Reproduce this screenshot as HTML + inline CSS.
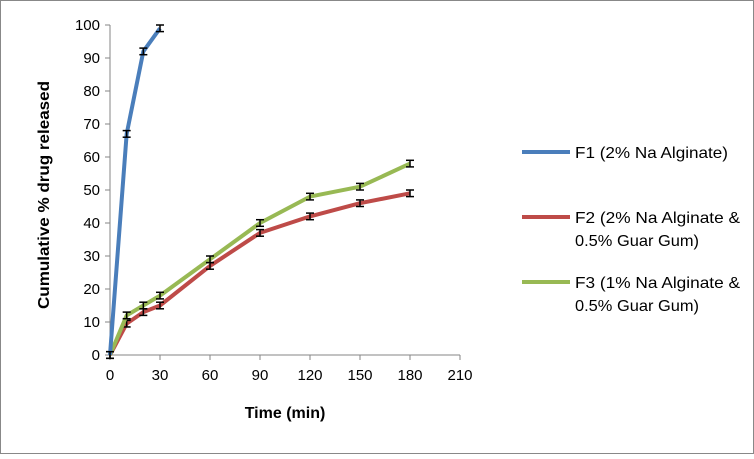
<!DOCTYPE html>
<html><head><meta charset="utf-8"><style>
body{margin:0;background:#fff}
svg text{font-family:"Liberation Sans",sans-serif}
</style></head><body>
<svg id="chart" width="754" height="454" xmlns="http://www.w3.org/2000/svg">
<rect x="0.5" y="0.5" width="753" height="453" fill="#fff" stroke="#888"/>
<g id="axes"></g>
<g id="series"></g>
<text x="285" y="418" font-size="16" font-weight="bold" text-anchor="middle">Time (min)</text>
<text transform="translate(49,195) rotate(-90)" font-size="16" font-weight="bold" text-anchor="middle" textLength="228" lengthAdjust="spacingAndGlyphs">Cumulative % drug released</text>
<g>
<line x1="522" y1="152" x2="570" y2="152" stroke="#4a7ebb" stroke-width="4"/>
<text x="575" y="158" font-size="16" textLength="153" lengthAdjust="spacingAndGlyphs">F1 (2% Na Alginate)</text>
<line x1="522" y1="217" x2="570" y2="217" stroke="#be4b48" stroke-width="4"/>
<text x="575" y="223" font-size="16" textLength="165" lengthAdjust="spacingAndGlyphs">F2 (2% Na Alginate &amp;</text>
<text x="575" y="246" font-size="16" textLength="124" lengthAdjust="spacingAndGlyphs">0.5% Guar Gum)</text>
<line x1="522" y1="282" x2="570" y2="282" stroke="#98b954" stroke-width="4"/>
<text x="575" y="288" font-size="16" textLength="165" lengthAdjust="spacingAndGlyphs">F3 (1% Na Alginate &amp;</text>
<text x="575" y="311" font-size="16" textLength="124" lengthAdjust="spacingAndGlyphs">0.5% Guar Gum)</text>
</g>
</svg>
<script>
const xTicks=[0,30,60,90,120,150,180,210];
const yTicks=[0,10,20,30,40,50,60,70,80,90,100];
const f1Times=[0,10,20,30];
const f1Values=[0,67,92,99];
const f2Times=[0,10,20,30,60,90,120,150,180];
const f2Values=[0,9.5,13,15,27,37,42,46,49];
const f3Times=[0,10,20,30,60,90,120,150,180];
const f3Values=[0,12,15,18,29,40,48,51,58];
const errSize=1;
const NS="http://www.w3.org/2000/svg";
const x=v=>110+v*(350/210);
const y=v=>355-v*3.3;
function mk(tag,attrs,parent){const e=document.createElementNS(NS,tag);for(const k in attrs)e.setAttribute(k,attrs[k]);parent.appendChild(e);return e;}
const ax=document.getElementById('axes');
let a=mk('line',{x1:110,y1:y(100),x2:110,y2:355,stroke:'#868686'},ax);


a=mk('line',{x1:110,y1:355,x2:460,y2:355,stroke:'#868686'},ax);


yTicks.forEach(t=>{
 let l=mk('line',{x1:105,x2:110,y1:y(t),y2:y(t),stroke:'#868686'},ax);
 
 
 let tx=mk('text',{x:100,y:y(t)+5,'font-size':15,'text-anchor':'end'},ax);tx.textContent=t;
 
 
});
xTicks.forEach(t=>{
 let l=mk('line',{x1:x(t),x2:x(t),y1:355,y2:360,stroke:'#868686'},ax);
 
 
 let tx=mk('text',{x:x(t),y:380,'font-size':15,'text-anchor':'middle'},ax);tx.textContent=t;
 
 
});
const sg=document.getElementById('series');
function series(ts,vs,col,name){
 const p=mk('polyline',{points:ts.map((t,i)=>x(t)+','+y(vs[i])).join(' '),fill:'none',stroke:col,'stroke-width':4,'stroke-linejoin':'round'},sg);
 
 
 ts.forEach((t,i)=>{
  const g=mk('g',{stroke:'#000','stroke-width':1.5},sg);
  
  
  const cx=x(t),y1=y(vs[i]+errSize),y2=y(vs[i]-errSize);
  mk('line',{x1:cx,x2:cx,y1:y1,y2:y2},g);
  mk('line',{x1:cx-4,x2:cx+4,y1:y1,y2:y1},g);
  mk('line',{x1:cx-4,x2:cx+4,y1:y2,y2:y2},g);
 });
}
series(f2Times,f2Values,'#be4b48','f2');
series(f3Times,f3Values,'#98b954','f3');
series(f1Times,f1Values,'#4a7ebb','f1');
</script>
</body></html>
